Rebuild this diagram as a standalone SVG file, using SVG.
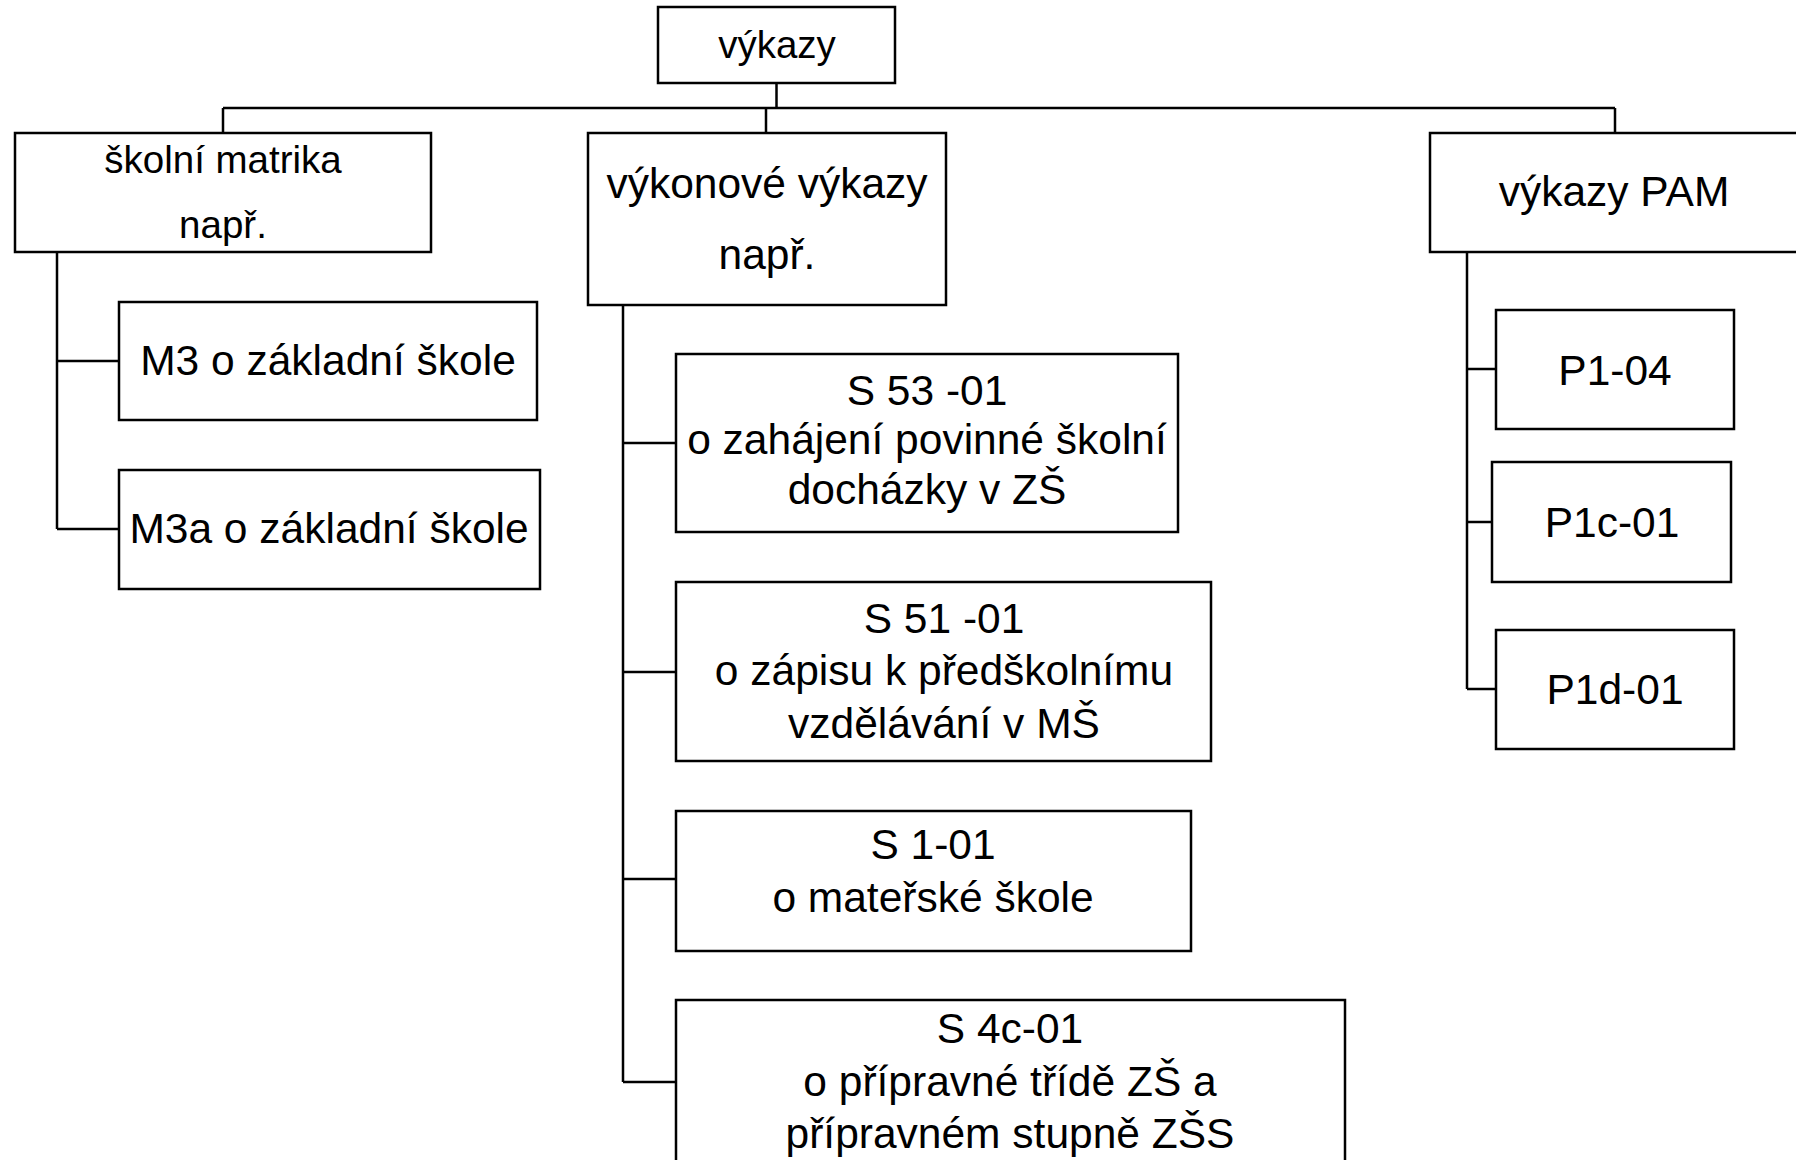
<svg xmlns="http://www.w3.org/2000/svg" width="1796" height="1160" viewBox="0 0 1796 1160">
<style>
.box{fill:#fff;stroke:#000;stroke-width:2.5}
.con{fill:none;stroke:#000;stroke-width:2.5}
text{font-family:"Liberation Sans",Arial,sans-serif;fill:#000;text-anchor:middle}
.big{font-size:42.5px}
.small{font-size:38.5px}
</style>
<rect width="1796" height="1160" fill="#fff"/>
<g id="connectors">
<path class="con" d="M776.5,83 V108 M223,108 H1615 M223,108 V133 M766,108 V133 M1615,108 V133"/>
<path class="con" d="M57,252 V529 M57,361 H119 M57,529 H119"/>
<path class="con" d="M623,305 V1082 M623,443 H676 M623,672 H676 M623,879 H676 M623,1082 H676"/>
<path class="con" d="M1467,252 V689 M1467,369 H1496 M1467,522 H1492 M1467,689 H1496"/>
</g>
<g id="n-vykazy">
<rect class="box" x="658" y="7" width="237" height="76"/>
<text class="small" x="777" y="58">výkazy</text>
</g>
<g id="n-skolni-matrika">
<rect class="box" x="15" y="133" width="416" height="119"/>
<text class="small" x="223" y="173">školní matrika</text>
<text class="small" x="223" y="238">např.</text>
</g>
<g id="n-vykonove">
<rect class="box" x="588" y="133" width="358" height="172"/>
<text class="big" x="767" y="198">výkonové výkazy</text>
<text class="big" x="767" y="269">např.</text>
</g>
<g id="n-pam">
<rect class="box" x="1430" y="133" width="380" height="119"/>
<text class="big" x="1614" y="206">výkazy PAM</text>
</g>
<g id="n-m3">
<rect class="box" x="119" y="302" width="418" height="118"/>
<text class="big" x="328" y="375">M3 o základní škole</text>
</g>
<g id="n-m3a">
<rect class="box" x="119" y="470" width="421" height="119"/>
<text class="big" x="329" y="543">M3a o základní škole</text>
</g>
<g id="n-s53">
<rect class="box" x="676" y="354" width="502" height="178"/>
<text class="big" x="927" y="405">S 53 -01</text>
<text class="big" x="927" y="454">o zahájení povinné školní</text>
<text class="big" x="927" y="504">docházky v ZŠ</text>
</g>
<g id="n-s51">
<rect class="box" x="676" y="582" width="535" height="179"/>
<text class="big" x="944" y="633">S 51 -01</text>
<text class="big" x="944" y="685">o zápisu k předškolnímu</text>
<text class="big" x="944" y="738">vzdělávání v MŠ</text>
</g>
<g id="n-s1">
<rect class="box" x="676" y="811" width="515" height="140"/>
<text class="big" x="933" y="859">S 1-01</text>
<text class="big" x="933" y="912">o mateřské škole</text>
</g>
<g id="n-s4c">
<rect class="box" x="676" y="1000" width="669" height="200"/>
<text class="big" x="1010" y="1043">S 4c-01</text>
<text class="big" x="1010" y="1096">o přípravné třídě ZŠ a</text>
<text class="big" x="1010" y="1148">přípravném stupně ZŠS</text>
</g>
<g id="n-p104">
<rect class="box" x="1496" y="310" width="238" height="119"/>
<text class="big" x="1615" y="385">P1-04</text>
</g>
<g id="n-p1c">
<rect class="box" x="1492" y="462" width="239" height="120"/>
<text class="big" x="1612" y="537">P1c-01</text>
</g>
<g id="n-p1d">
<rect class="box" x="1496" y="630" width="238" height="119"/>
<text class="big" x="1615" y="704">P1d-01</text>
</g>
</svg>
